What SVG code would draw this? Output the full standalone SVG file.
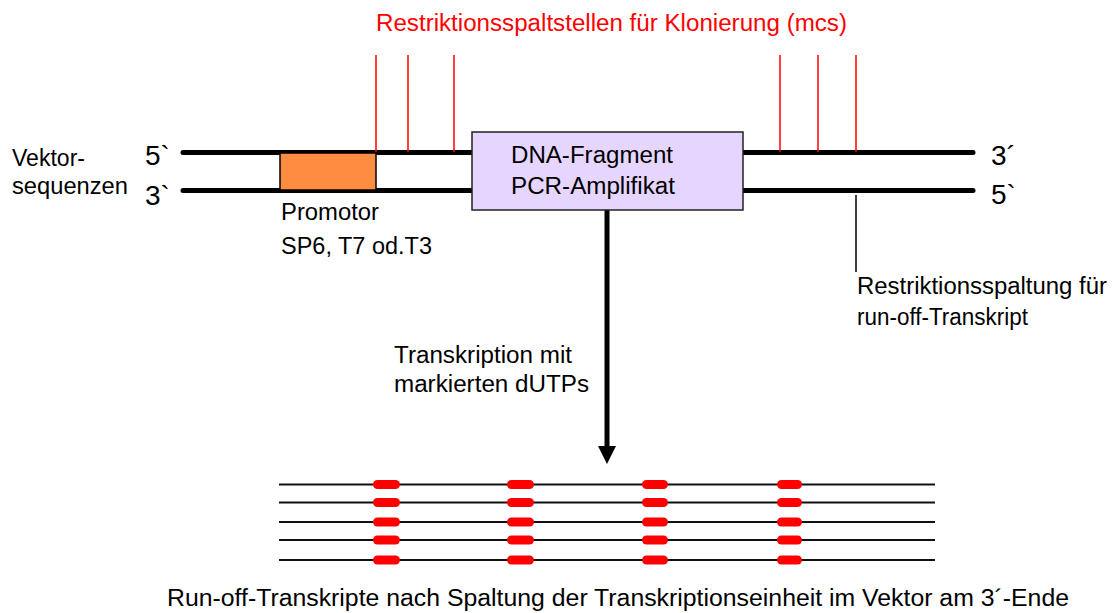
<svg xmlns="http://www.w3.org/2000/svg" width="1117" height="613" viewBox="0 0 1117 613">
<style>
text{font-family:"Liberation Sans",Arial,sans-serif;fill:#000}
.lbl{font-size:23.5px}
.end{font-size:28px}
.red{fill:#FF0000}
.strand{stroke:#000;stroke-width:5;stroke-linecap:round;fill:none}
.site{stroke:#FF0000;stroke-width:1.5}
.tr{stroke:#111;stroke-width:2}
.pill{fill:#FF0000}
</style>
<rect width="1117" height="613" fill="#fff"/>
<g id="connectors">
<line class="strand" x1="183" y1="152.5" x2="472" y2="152.5"/>
<line class="strand" x1="183" y1="190.5" x2="472" y2="190.5"/>
<line class="strand" x1="743" y1="152.5" x2="973" y2="152.5"/>
<line class="strand" x1="743" y1="190.5" x2="973" y2="190.5"/>
<line class="site" x1="376" y1="55" x2="376" y2="152"/>
<line class="site" x1="408" y1="55" x2="408" y2="152"/>
<line class="site" x1="454" y1="55" x2="454" y2="152"/>
<line class="site" x1="780" y1="55" x2="780" y2="152"/>
<line class="site" x1="818" y1="55" x2="818" y2="152"/>
<line class="site" x1="856" y1="55" x2="856" y2="152"/>
<line x1="856" y1="195" x2="856" y2="272" stroke="#000" stroke-width="1.5"/>
<line x1="607" y1="210" x2="607" y2="447" stroke="#000" stroke-width="5"/>
<polygon points="598,446 616,446 607,464" fill="#000"/>
</g>
<g id="title">
<text class="lbl red" x="376" y="31" textLength="471" lengthAdjust="spacingAndGlyphs">Restriktionsspaltstellen für Klonierung (mcs)</text>
</g>
<g id="vector-label">
<text class="lbl" x="12" y="166" textLength="73" lengthAdjust="spacingAndGlyphs">Vektor-</text>
<text class="lbl" x="12" y="194" textLength="116" lengthAdjust="spacingAndGlyphs">sequenzen</text>
<text class="end" x="145" y="165">5`</text>
<text class="end" x="145" y="205">3`</text>
<text class="end" x="991" y="165">3´</text>
<text class="end" x="991" y="204">5`</text>
</g>
<g id="promoter">
<rect x="280" y="153" width="96" height="37" fill="#FF8C40" stroke="#000" stroke-width="1.5"/>
<text class="lbl" x="281" y="220" textLength="98" lengthAdjust="spacingAndGlyphs">Promotor</text>
<text class="lbl" x="281" y="254" textLength="151" lengthAdjust="spacingAndGlyphs">SP6, T7 od.T3</text>
</g>
<g id="dna-fragment">
<rect x="472" y="132" width="271" height="78" fill="#E6D6FF" stroke="#222" stroke-width="1.5"/>
<text class="lbl" x="511" y="163" textLength="162" lengthAdjust="spacingAndGlyphs">DNA-Fragment</text>
<text class="lbl" x="511" y="194" textLength="164" lengthAdjust="spacingAndGlyphs">PCR-Amplifikat</text>
</g>
<g id="cut-label">
<text class="lbl" x="857" y="294" textLength="250" lengthAdjust="spacingAndGlyphs">Restriktionsspaltung für</text>
<text class="lbl" x="857" y="325" textLength="171" lengthAdjust="spacingAndGlyphs">run-off-Transkript</text>
</g>
<g id="transcription-label">
<text class="lbl" x="394" y="363" textLength="178" lengthAdjust="spacingAndGlyphs">Transkription mit</text>
<text class="lbl" x="394" y="392" textLength="195" lengthAdjust="spacingAndGlyphs">markierten dUTPs</text>
</g>
<g id="transcripts">
<line class="tr" x1="279" y1="484.5" x2="935" y2="484.5"/>
<line class="tr" x1="279" y1="502.5" x2="935" y2="502.5"/>
<line class="tr" x1="279" y1="522" x2="935" y2="522"/>
<line class="tr" x1="279" y1="540" x2="935" y2="540"/>
<line class="tr" x1="279" y1="560" x2="935" y2="560"/>
<g id="pills">
<rect class="pill" x="373" y="480" width="27" height="9" rx="4.5"/>
<rect class="pill" x="507" y="480" width="27" height="9" rx="4.5"/>
<rect class="pill" x="642" y="480" width="26" height="9" rx="4.5"/>
<rect class="pill" x="777" y="480" width="25" height="9" rx="4.5"/>
<rect class="pill" x="373" y="498" width="27" height="9" rx="4.5"/>
<rect class="pill" x="507" y="498" width="27" height="9" rx="4.5"/>
<rect class="pill" x="642" y="498" width="26" height="9" rx="4.5"/>
<rect class="pill" x="777" y="498" width="25" height="9" rx="4.5"/>
<rect class="pill" x="373" y="517.5" width="27" height="9" rx="4.5"/>
<rect class="pill" x="507" y="517.5" width="27" height="9" rx="4.5"/>
<rect class="pill" x="642" y="517.5" width="26" height="9" rx="4.5"/>
<rect class="pill" x="777" y="517.5" width="25" height="9" rx="4.5"/>
<rect class="pill" x="373" y="535.5" width="27" height="9" rx="4.5"/>
<rect class="pill" x="507" y="535.5" width="27" height="9" rx="4.5"/>
<rect class="pill" x="642" y="535.5" width="26" height="9" rx="4.5"/>
<rect class="pill" x="777" y="535.5" width="25" height="9" rx="4.5"/>
<rect class="pill" x="373" y="555.5" width="27" height="9" rx="4.5"/>
<rect class="pill" x="507" y="555.5" width="27" height="9" rx="4.5"/>
<rect class="pill" x="642" y="555.5" width="26" height="9" rx="4.5"/>
<rect class="pill" x="777" y="555.5" width="25" height="9" rx="4.5"/>
</g>
</g>
<g id="caption">
<text class="lbl" x="167" y="606" textLength="902" lengthAdjust="spacingAndGlyphs">Run-off-Transkripte nach Spaltung der Transkriptionseinheit im Vektor am 3´-Ende</text>
</g>
</svg>
